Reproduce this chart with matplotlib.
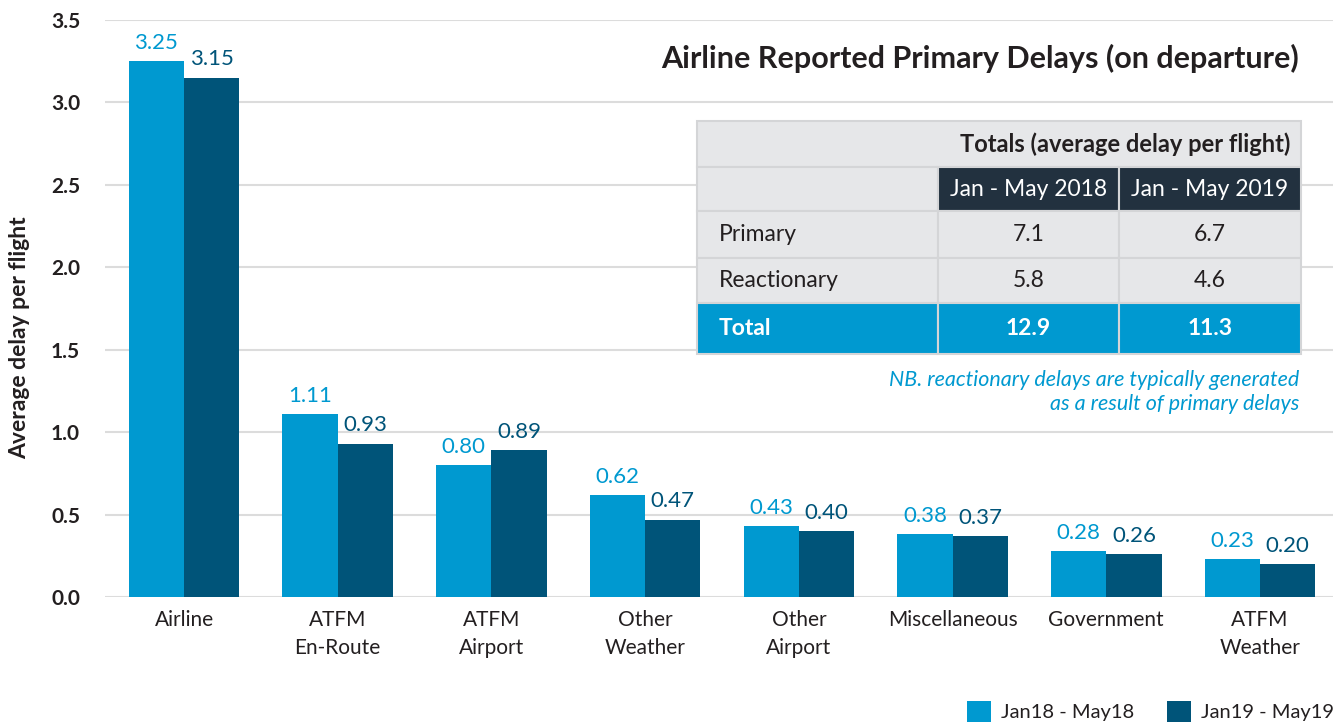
import matplotlib.pyplot as plt
from matplotlib.patches import Rectangle
import numpy as np

plt.rcParams["font.family"] = ["Lato", "DejaVu Sans"]

categories = ["Airline", "ATFM\nEn-Route", "ATFM\nAirport", "Other\nWeather", "Other\nAirport",
              "Miscellaneous", "Government", "ATFM\nWeather"]
delay_2018 = [3.25, 1.11, 0.80, 0.62, 0.43, 0.38, 0.28, 0.23]
delay_2019 = [3.15, 0.93, 0.89, 0.47, 0.40, 0.37, 0.26, 0.20]
series_names = ["Jan18 - May18", "Jan19 - May19"]

table_title = "Totals (average delay per flight)"
table_cols = ["Jan - May 2018", "Jan - May 2019"]
table_rows = ["Primary", "Reactionary", "Total"]
table_2018 = ["7.1", "5.8", "12.9"]
table_2019 = ["6.7", "4.6", "11.3"]

LIGHT = "#0099d0"
DARK = "#005479"
NAVY = "#22313f"
GREY_BG = "#e6e7e9"
TEXT = "#231f20"

W, H = 1333, 724


def fx(x):
    return x / W


def fy(y):
    return 1 - y / H


fig = plt.figure(figsize=(W / 100, H / 100), dpi=100)
ax = fig.add_axes([fx(105), fy(597), fx(1333) - fx(105), fy(20) - fy(597)])

x = np.arange(len(categories))
bw = 0.36
b1 = ax.bar(x - bw / 2, delay_2018, bw, color=LIGHT, label=series_names[0], zorder=2)
b2 = ax.bar(x + bw / 2, delay_2019, bw, color=DARK, label=series_names[1], zorder=2)

for rect, v in zip(b1, delay_2018):
    ax.text(rect.get_x() + rect.get_width() / 2, v + 0.05, f"{v:.2f}", ha="center", va="bottom",
            color=LIGHT, fontsize=16)
for rect, v in zip(b2, delay_2019):
    ax.text(rect.get_x() + rect.get_width() / 2, v + 0.05, f"{v:.2f}", ha="center", va="bottom",
            color=DARK, fontsize=16)

ax.set_xlim(-0.514, 7.475)
ax.set_ylim(0, 3.5)
ax.set_yticks(np.arange(0, 3.51, 0.5))
ax.set_yticklabels([f"{t:.1f}" for t in np.arange(0, 3.51, 0.5)], fontweight="bold", fontsize=15, color=TEXT)
ax.set_xticks(x)
ax.set_xticklabels(categories, fontsize=15, color=TEXT, linespacing=1.55)
ax.tick_params(axis="both", length=0)
ax.tick_params(axis="y", pad=18)
ax.tick_params(axis="x", pad=9)
for s in ax.spines.values():
    s.set_visible(False)
ax.grid(axis="y", color="#dcdcdc", linewidth=1.5, zorder=0)
ax.set_axisbelow(True)

fig.text(fx(20), fy(338), "Average delay per flight", rotation=90, ha="center", va="center",
         fontsize=16.5, fontweight="bold", color=TEXT)

fig.text(fx(1299), fy(58), "Airline Reported Primary Delays (on departure)", ha="right", va="center",
         fontsize=22, fontweight="bold", color=TEXT)

# summary table
col_x = [697, 938, 1119, 1301]
row_y = [121, 167, 211, 258, 303, 354]


def cell(x0, y0, x1, y1, color):
    fig.add_artist(Rectangle((fx(x0), fy(y1)), fx(x1) - fx(x0), fy(y0) - fy(y1),
                             transform=fig.transFigure, facecolor=color, edgecolor="#d4d5d7", linewidth=1.5))


cell(col_x[0], row_y[0], col_x[3], row_y[1], GREY_BG)
fig.text(fx(1290), fy((row_y[0] + row_y[1]) / 2), table_title, ha="right", va="center",
         fontsize=17, fontweight="bold", color=TEXT)
cell(col_x[0], row_y[1], col_x[1], row_y[2], GREY_BG)
for j, name in enumerate(table_cols):
    cell(col_x[j + 1], row_y[1], col_x[j + 2], row_y[2], NAVY)
    fig.text(fx((col_x[j + 1] + col_x[j + 2]) / 2), fy((row_y[1] + row_y[2]) / 2), name,
             ha="center", va="center", fontsize=16.5, color="white")
for i, name in enumerate(table_rows):
    y0, y1 = row_y[i + 2], row_y[i + 3]
    total = name == "Total"
    bg = LIGHT if total else GREY_BG
    tc = "white" if total else TEXT
    fw = "bold" if total else "normal"
    for j in range(3):
        cell(col_x[j], y0, col_x[j + 1], y1, bg)
    ym = fy((y0 + y1) / 2)
    fig.text(fx(719), ym, name, ha="left", va="center", fontsize=16.5, color=tc, fontweight=fw)
    fig.text(fx((col_x[1] + col_x[2]) / 2), ym, table_2018[i], ha="center", va="center",
             fontsize=16.5, color=tc, fontweight=fw)
    fig.text(fx((col_x[2] + col_x[3]) / 2), ym, table_2019[i], ha="center", va="center",
             fontsize=16.5, color=tc, fontweight=fw)

fig.text(fx(1299), fy(392), "NB. reactionary delays are typically generated\nas a result of primary delays",
         ha="right", va="center", fontsize=15.5, style="italic", color=LIGHT, linespacing=1.25)

fig.legend(handles=[b1, b2], labels=series_names, loc="lower right", ncol=2,
           bbox_to_anchor=(fx(1352), fy(740)), frameon=False, fontsize=14.5,
           handlelength=1.2, handleheight=1.2, handletextpad=0.5, columnspacing=1.6,
           labelcolor=TEXT)

fig.savefig("out.png", dpi=100)
